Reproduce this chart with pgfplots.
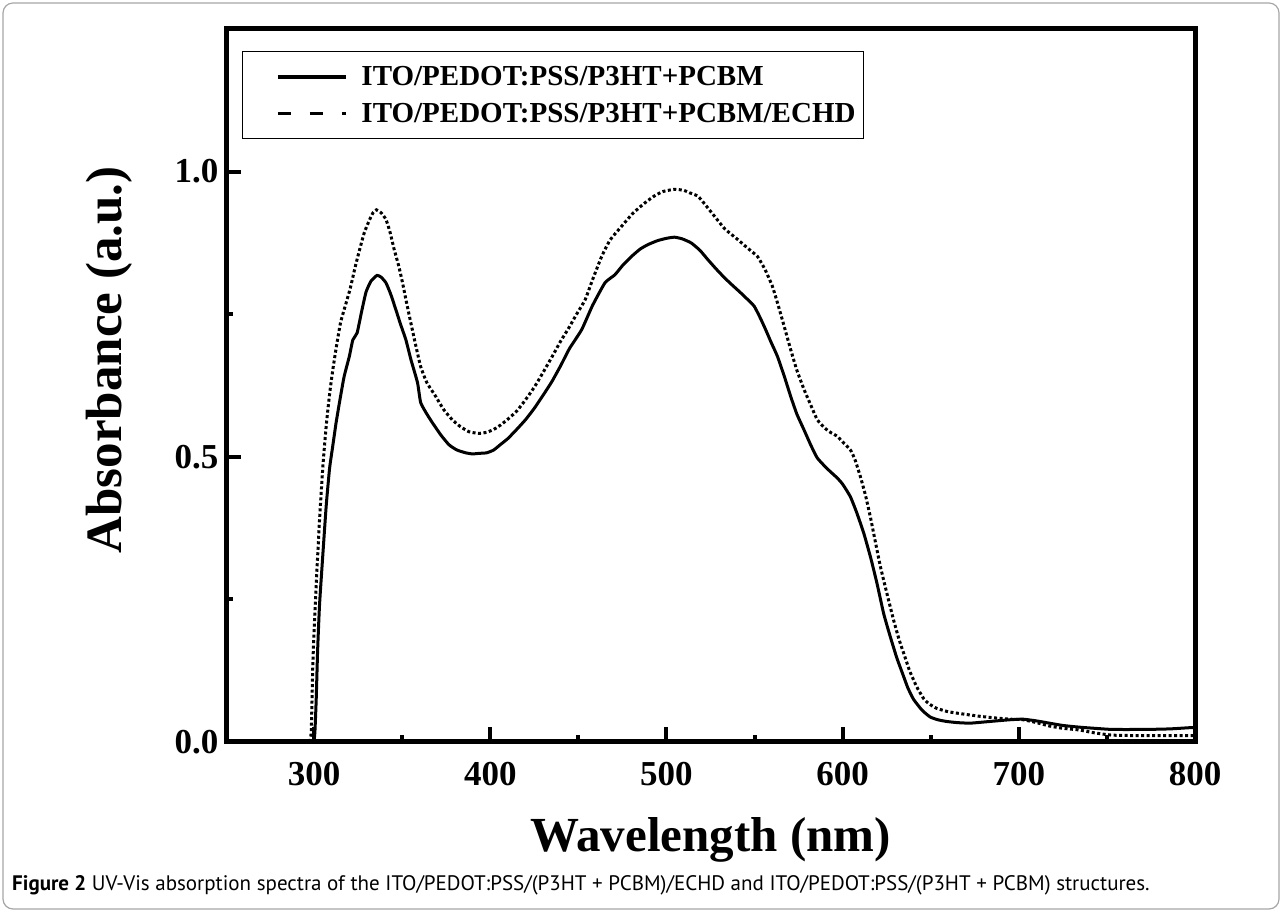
\documentclass[border=0pt]{standalone}
\usepackage{pgfplots}
\pgfplotsset{compat=1.18}
\usepackage{fontspec}
\setmainfont{Liberation Serif}
\newfontfamily\capfont{PT Sans}
\begin{document}
\begin{tikzpicture}[x=1pt,y=1pt]
\useasboundingbox (0,0) rectangle (1282,912);
\draw[gray!70, line width=1.2pt, rounded corners=10pt] (3,3) rectangle (1279,909);
\begin{axis}[
  at={(226pt,170pt)}, anchor=south west,
  scale only axis, width=969pt, height=713pt,
  xmin=250, xmax=800, ymin=0, ymax=1.25,
  xtick={300,400,...,800}, minor xtick={350,450,...,750},
  ytick={0,0.5,1}, minor ytick={0.25,0.75},
  tick pos=left, tick align=inside,
  major tick length=15pt, minor tick length=7pt,
  every tick/.style={line width=4pt, black},
  axis line style={line width=5pt, line join=miter},
  /pgf/number format/assume math mode=true,
  yticklabel style={/pgf/number format/fixed, /pgf/number format/fixed zerofill, /pgf/number format/precision=1, font=\fontsize{35}{38}\selectfont\bfseries, xshift=-4pt},
  xticklabel style={font=\fontsize{35}{38}\selectfont\bfseries, yshift=-17pt},
  xlabel={Wavelength (nm)},
  xlabel style={font=\fontsize{49}{52}\selectfont\bfseries, at={(axis description cs:0.5,-0.137)}, anchor=center},
  ylabel={Absorbance (a.u.)},
  ylabel style={font=\fontsize{51}{54}\selectfont\bfseries, at={(axis description cs:-0.121,0.536)}, anchor=center, rotate=0},
  legend style={at={(axis description cs:0.0165,0.969)}, anchor=north west, draw=black, line width=1pt, font=\fontsize{29}{32}\selectfont\bfseries, inner xsep=6pt, inner ysep=13pt, row sep=12pt},
  legend cell align=left,
]
\addplot[black, line width=3pt, smooth, tension=0.3,
  legend image code/.code={\path (-28pt,0pt) (80pt,0pt); \draw[solid, line width=3.5pt] (0pt,0pt) -- (68pt,0pt);}] coordinates {
(300,0) (300.5,0.02) (301.2,0.074) (302,0.16) (303.1,0.241) (305,0.33) (306.9,0.415) (308.8,0.48) (310.6,0.519) (312.5,0.56) (314.4,0.595) (317,0.64) (320,0.676) (322,0.705) (324.4,0.717) (327,0.755) (329.5,0.789) (332.3,0.808) (335.7,0.818) (338,0.815) (340.8,0.805) (343.5,0.785) (346.4,0.758) (349,0.733) (352.1,0.705) (355,0.67) (358.7,0.630) (360.5,0.595) (364,0.575) (367.1,0.560) (372,0.538) (376.6,0.521) (381,0.512) (386,0.507) (390,0.505) (393.5,0.506) (398,0.507) (402,0.512) (406,0.522) (410,0.532) (415,0.548) (420,0.565) (425,0.585) (430,0.608) (435,0.632) (440,0.66) (445,0.69) (451.9,0.723) (458,0.765) (465.1,0.805) (470.7,0.819) (475,0.835) (480.1,0.851) (485,0.864) (489.5,0.872) (495,0.879) (500,0.883) (504.6,0.885) (509,0.882) (514,0.875) (519,0.862) (523.4,0.846) (528,0.830) (532.9,0.814) (537,0.802) (542.3,0.787) (546,0.776) (549.8,0.764) (553,0.745) (556,0.725) (559.5,0.700) (563,0.676) (567,0.640) (570.5,0.606) (574,0.575) (578.1,0.547) (582,0.52) (585.6,0.498) (590,0.483) (593,0.474) (596.9,0.463) (600,0.452) (604.4,0.430) (608,0.402) (612,0.366) (616,0.322) (619.5,0.278) (623.3,0.225) (627,0.185) (630.8,0.147) (634.6,0.115) (637,0.095) (640.2,0.075) (645,0.056) (649.6,0.044) (654,0.039) (659,0.036) (665,0.034) (672.2,0.033) (680,0.035) (687.3,0.037) (695,0.039) (702.4,0.040) (710,0.037) (717.4,0.033) (725,0.029) (734.4,0.026) (743,0.024) (753.2,0.022) (772,0.022) (786,0.023) (796.5,0.025) (800,0.025)
};
\addlegendentry{ITO/PEDOT:PSS/P3HT+PCBM}
\addplot[black, line width=3pt, smooth, tension=0.3, dash pattern=on 3pt off 2.5pt,
  legend image code/.code={\path (-28pt,0pt) (80pt,0pt); \draw[line width=3.5pt, dash pattern=on 13pt off 19pt] (0pt,0pt) -- (68pt,0pt);}] coordinates {
(297.5,0) (298.4,0.019) (299.3,0.137) (300.2,0.21) (301.2,0.276) (303.1,0.39) (305,0.484) (306.9,0.555) (308.8,0.610) (310.5,0.650) (312.5,0.690) (315,0.735) (318.2,0.770) (320.5,0.795) (323.5,0.835) (326,0.865) (328.5,0.893) (331.4,0.915) (333.5,0.928) (335.4,0.933) (338,0.928) (340.8,0.916) (343,0.895) (345.5,0.863) (348,0.835) (350.2,0.805) (352.5,0.770) (354.9,0.735) (357.5,0.698) (360.5,0.658) (364,0.630) (369,0.606) (373.5,0.583) (378.4,0.565) (383,0.553) (387.9,0.544) (393.5,0.541) (398,0.543) (402,0.548) (406,0.556) (410,0.566) (415,0.580) (420,0.600) (425,0.622) (430,0.648) (435,0.675) (440,0.703) (444.4,0.725) (449,0.750) (453.8,0.775) (458,0.810) (463.2,0.851) (468,0.880) (474.5,0.904) (481,0.927) (487.7,0.945) (493,0.957) (498,0.965) (504.6,0.969) (510,0.967) (513,0.963) (517.8,0.957) (522,0.942) (527.2,0.922) (533,0.900) (540.4,0.881) (546,0.866) (551.7,0.851) (556,0.828) (560,0.800) (563,0.770) (566.7,0.730) (570.5,0.688) (574,0.652) (578.1,0.618) (582,0.590) (585.6,0.565) (590,0.550) (593,0.543) (596.9,0.536) (600,0.526) (604.4,0.512) (607,0.495) (610.1,0.465) (613,0.432) (615.7,0.395) (618.5,0.352) (621.4,0.308) (625,0.262) (628.9,0.214) (632,0.180) (634.6,0.156) (638,0.125) (642,0.097) (646,0.076) (649,0.067) (653.4,0.059) (660,0.053) (668.5,0.049) (678,0.045) (687.3,0.042) (695,0.040) (702.4,0.039) (710,0.034) (717.4,0.028) (725,0.024) (734.4,0.021) (743,0.016) (753.2,0.012) (772,0.011) (786,0.011) (800,0.011)
};
\addlegendentry{ITO/PEDOT:PSS/P3HT+PCBM/ECHD}
\end{axis}
\node[anchor=west, inner sep=0pt, font=\capfont\fontsize{21}{23}\selectfont] at (12,27) {\textbf{Figure 2} UV-Vis absorption spectra of the ITO/PEDOT:PSS/(P3HT + PCBM)/ECHD and ITO/PEDOT:PSS/(P3HT + PCBM) structures.};
\end{tikzpicture}
\end{document}
